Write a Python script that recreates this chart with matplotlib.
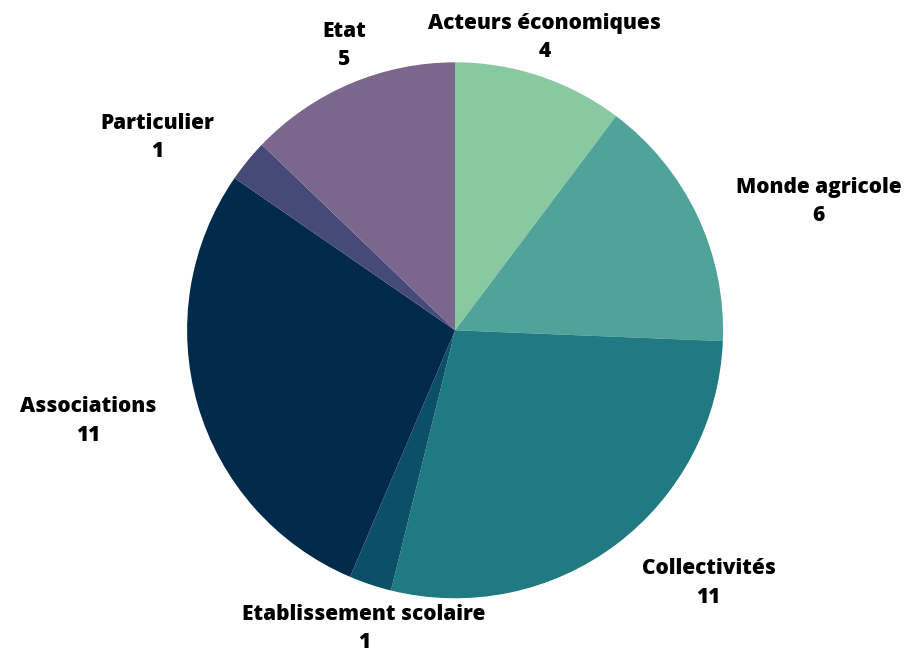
import numpy as np
import matplotlib.pyplot as plt

plt.rcParams['font.family'] = ['Open Sans', 'DejaVu Sans']

labels = ["Acteurs économiques", "Monde agricole", "Collectivités",
          "Etablissement scolaire", "Associations", "Particulier", "Etat"]
values = [4, 6, 11, 1, 11, 1, 5]
colors = ["#88c9a1", "#4fa398", "#207a82", "#0b5068", "#012a4a", "#464a76", "#7b678e"]

fig = plt.figure(figsize=(9.12, 6.56), dpi=100)
ax = fig.add_axes([0.205, 0.088, 0.588, 0.817])
wedges, _ = ax.pie(values, colors=colors, startangle=90, counterclock=False,
                   wedgeprops=dict(linewidth=0))
ax.set_xlim(-1, 1)
ax.set_ylim(-1, 1)
ax.set_aspect('equal')

for w, name, v in zip(wedges, labels, values):
    ang = np.deg2rad((w.theta1 + w.theta2) / 2)
    x, y = np.cos(ang), np.sin(ang)
    if abs(x) < 0.45:
        d = 1.055 if y > 0 else 1.075
        ha, va = 'center', ('bottom' if y > 0 else 'top')
        dy = 0
    else:
        d = 1.16
        ha, va = ('left' if x > 0 else 'right'), 'center'
        dy = -3
    ax.annotate(f"{name}\n{v}", (d * x, d * y), xytext=(0, dy), textcoords='offset points',
                ha=ha, va=va, multialignment='center', annotation_clip=False,
                fontsize=15, fontweight=800, linespacing=1.45, color='black')

fig.savefig("out.png", dpi=100)
